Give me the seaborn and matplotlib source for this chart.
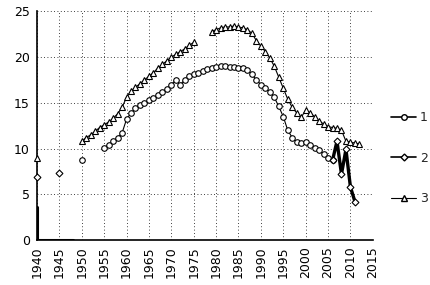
import numpy as np
import pandas as pd
import matplotlib
matplotlib.use("Agg")
import matplotlib.pyplot as plt
import seaborn as sns
from matplotlib.lines import Line2D

nan = np.nan

# ---- data ----
years1 = [1950, 1951, 1952, 1953, 1954, 1955, 1956, 1957, 1958, 1959,
          1960, 1961, 1962, 1963, 1964, 1965, 1966, 1967, 1968, 1969,
          1970, 1971, 1972, 1973, 1974, 1975, 1976, 1977, 1978, 1979,
          1980, 1981, 1982, 1983, 1984, 1985, 1986, 1987, 1988, 1989,
          1990, 1991, 1992, 1993, 1994, 1995, 1996, 1997, 1998, 1999,
          2000, 2001, 2002, 2003, 2004, 2005, 2006]
values1 = [8.8, nan, nan, nan, nan, 10.1, 10.4, 10.8, 11.2, 11.7,
           13.2, 13.9, 14.4, 14.8, 15.0, 15.3, 15.5, 15.9, 16.2, 16.5,
           17.0, 17.5, 17.0, 17.5, 17.9, 18.1, 18.3, 18.5, 18.7, 18.8,
           18.9, 19.0, 19.0, 18.9, 18.9, 18.8, 18.8, 18.6, 18.1, 17.5,
           17.0, 16.6, 16.2, 15.6, 14.6, 13.5, 12.0, 11.2, 10.7, 10.6,
           10.7, 10.4, 10.1, 9.8, 9.4, 9.0, 8.7]

years2 = [1940, 1941, 1945, 1946, 2006, 2007, 2008, 2009, 2010, 2011]
values2 = [6.9, nan, 7.3, nan, 8.7, 10.8, 7.2, 9.9, 5.8, 4.2]

years3 = [1940, 1941, 1950, 1951, 1952, 1953, 1954, 1955, 1956, 1957,
          1958, 1959, 1960, 1961, 1962, 1963, 1964, 1965, 1966, 1967,
          1968, 1969, 1970, 1971, 1972, 1973, 1974, 1975, 1976, 1979,
          1980, 1981, 1982, 1983, 1984, 1985, 1986, 1987, 1988, 1989,
          1990, 1991, 1992, 1993, 1994, 1995, 1996, 1997, 1998, 1999,
          2000, 2001, 2002, 2003, 2004, 2005, 2006, 2007, 2008, 2009,
          2010, 2011, 2012]
values3 = [9.0, nan, 10.8, 11.2, 11.5, 11.9, 12.3, 12.6, 12.9, 13.3,
           13.8, 14.5, 15.6, 16.3, 16.7, 17.1, 17.5, 17.9, 18.3, 18.8,
           19.2, 19.6, 20.0, 20.3, 20.6, 20.9, 21.3, 21.6, nan, 22.8,
           23.0, 23.2, 23.3, 23.3, 23.4, 23.3, 23.2, 23.0, 22.6, 21.8,
           21.2, 20.6, 19.9, 19.0, 17.8, 16.6, 15.4, 14.5, 13.9, 13.4,
           14.2, 13.9, 13.5, 13.0, 12.7, 12.4, 12.3, 12.2, 12.0, 10.8,
           10.7, 10.6, 10.5]

# thick black stub drawn at the lower-left corner of the reference
stub_years = [1940, 1940, 1948]
stub_values = [3.6, 0, 0]

series_labels = ["1", "2", "3"]
x_ticks = list(range(1940, 2016, 5))
y_ticks = list(range(0, 26, 5))

# ---- styling ----
sns.set_theme(style="white")
plt.rcParams["font.family"] = ["DejaVu Sans"]

fig = plt.figure(figsize=(4.3, 2.85), dpi=100)
ax = fig.add_axes([0.086, 0.158, 0.781, 0.802])

def segments(xs, ys):
    df = pd.DataFrame({"year": xs, "value": ys})
    seg = df["value"].isna().cumsum()
    out = []
    for _, part in df.groupby(seg):
        part = part.dropna()
        if len(part):
            out.append(part)
    return out

specs = [
    (years3, values3, "^", 0.8, "3"),
    (years1, values1, "o", 0.8, "1"),
    (years2, values2, "D", 2.4, "2"),
]
for xs, ys, mk, lw, lab in specs:
    for part in segments(xs, ys):
        sns.lineplot(data=part, x="year", y="value", ax=ax, color="black",
                     linewidth=lw, marker=mk, markersize=4 if mk != "D" else 3.5,
                     markerfacecolor="white", markeredgecolor="black",
                     markeredgewidth=0.8, legend=False, estimator=None,
                     sort=False, clip_on=False, zorder=3)

stub = pd.DataFrame({"year": stub_years, "value": stub_values})
sns.lineplot(data=stub, x="year", y="value", ax=ax, color="black",
             linewidth=2.2, estimator=None, sort=False, legend=False, zorder=3)

ax.set_xlim(1940, 2015)
ax.set_ylim(0, 25)
ax.set_xticks(x_ticks)
ax.set_yticks(y_ticks)
ax.set_xticklabels([str(t) for t in x_ticks], rotation=90, fontsize=9)
ax.set_yticklabels([str(t) for t in y_ticks], fontsize=9)
ax.set_xlabel("")
ax.set_ylabel("")
ax.grid(True, color="black", linestyle=(0, (1, 3)), linewidth=0.6)
ax.set_axisbelow(True)
for s in ["top", "right"]:
    ax.spines[s].set_visible(False)
for s in ["left", "bottom"]:
    ax.spines[s].set_color("black")
    ax.spines[s].set_linewidth(1.2)
ax.tick_params(axis="y", direction="out", length=3, width=1, colors="black", pad=2)
ax.tick_params(axis="x", direction="inout", length=5, width=1, colors="black", pad=2)

handles = [
    Line2D([], [], color="black", linewidth=1.2, marker="o", markersize=4,
           markerfacecolor="white", markeredgecolor="black"),
    Line2D([], [], color="black", linewidth=1.2, marker="D", markersize=3.5,
           markerfacecolor="white", markeredgecolor="black"),
    Line2D([], [], color="black", linewidth=0.8, marker="^", markersize=4,
           markerfacecolor="white", markeredgecolor="black"),
]
fig.legend(handles, series_labels, loc="upper left",
           bbox_to_anchor=(0.91, 0.61), frameon=False, fontsize=9,
           handlelength=2.0, handletextpad=0.3, labelspacing=2.2,
           borderaxespad=0, borderpad=0)

fig.savefig("out.png", dpi=100)
